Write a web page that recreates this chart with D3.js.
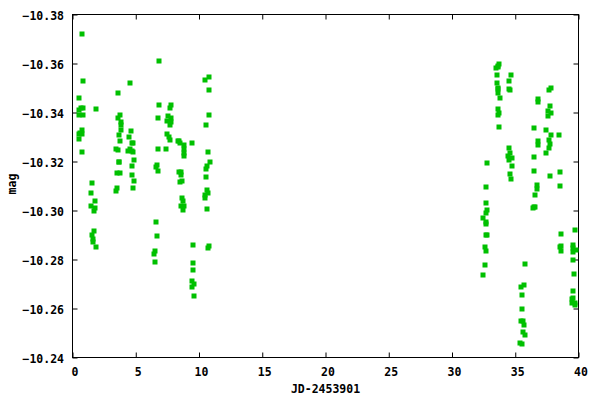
<!DOCTYPE html>
<html><head><meta charset="utf-8">
<script src="https://cdn.jsdelivr.net/npm/d3@7"></script>
<style>body{margin:0;background:#fff}svg{display:block}text{font-family:"DejaVu Sans Mono",monospace;font-weight:bold;font-size:11.5px;fill:#000}</style>
</head><body><svg id="c" width="600" height="400"></svg>
<script>
const jd = [
0.77,0.85,0.54,0.70,0.80,0.54,0.54,0.80,0.77,0.60,0.48,0.73,0.48,0.77,
1.88,1.57,1.49,1.80,1.49,1.80,1.72,1.72,1.57,1.65,1.65,1.88,
3.62,4.57,3.78,3.62,3.86,3.86,3.86,3.70,4.65,4.49,3.78,4.73,4.81,3.46,3.62,4.57,4.41,4.73,4.81,4.89,3.70,3.70,4.73,3.54,3.78,4.73,4.89,3.54,3.46,4.81,
6.87,6.86,7.81,7.73,6.79,7.58,7.81,7.50,7.81,7.73,7.50,7.66,7.73,6.79,7.42,6.71,6.63,6.79,6.63,6.71,6.55,6.47,6.55,
8.37,8.45,8.52,9.47,8.84,8.84,8.84,8.84,8.45,8.60,8.60,8.68,8.52,8.68,8.76,8.60,8.84,8.76,9.55,9.55,9.55,9.47,9.63,9.47,9.63,
10.82,10.50,10.82,10.82,10.58,10.74,10.90,10.66,10.58,10.58,10.66,10.74,10.50,10.50,10.66,10.82,10.74,
32.80,32.72,32.65,32.80,32.65,32.49,32.72,32.65,32.80,32.72,32.57,32.65,32.57,32.49,
33.75,33.60,33.44,33.67,33.52,33.52,33.67,33.60,33.67,33.83,33.60,33.75,33.60,33.75,
34.70,34.47,34.47,34.62,34.54,34.39,34.62,34.78,34.54,34.78,34.62,34.70,
35.81,35.73,35.49,35.57,35.57,35.49,35.65,35.73,35.65,35.81,35.41,35.57,
36.76,36.76,36.52,36.76,36.76,36.52,36.52,36.68,36.68,36.60,36.52,36.60,36.44,
37.79,37.63,37.71,37.55,37.79,37.55,37.47,37.79,38.42,37.63,37.71,37.63,37.47,38.50,37.71,38.50,38.58,38.50,38.58,38.58,
39.76,39.53,39.53,39.84,39.53,39.60,39.68,39.60,39.45,39.60,39.76,39.45,39.76
];
const mag = [
-10.372,-10.353,-10.346,-10.342,-10.342,-10.341,-10.339,-10.339,-10.3327,-10.3318,-10.3311,-10.3311,-10.329,-10.324,
-10.3416,-10.3114,-10.307,-10.3037,-10.302,-10.3012,-10.2996,-10.2917,-10.2898,-10.2882,-10.287,-10.2853,
-10.348,-10.352,-10.339,-10.3376,-10.3363,-10.3347,-10.333,-10.331,-10.3323,-10.3302,-10.3282,-10.3274,-10.3274,-10.3249,-10.3245,-10.3253,-10.3241,-10.3241,-10.3237,-10.3208,-10.32,-10.3196,-10.318,-10.3155,-10.3155,-10.3143,-10.3122,-10.309,-10.3078,-10.309,
-10.361,-10.343,-10.343,-10.3417,-10.3376,-10.3384,-10.3376,-10.3367,-10.3363,-10.3347,-10.3314,-10.3298,-10.3286,-10.3249,-10.3249,-10.3184,-10.3176,-10.3163,-10.2955,-10.2894,-10.2833,-10.2824,-10.2788,
-10.3282,-10.3282,-10.3277,-10.3277,-10.3266,-10.3249,-10.3233,-10.3224,-10.3159,-10.3159,-10.3143,-10.3122,-10.3118,-10.3049,-10.3037,-10.302,-10.302,-10.3004,-10.2861,-10.2784,-10.2759,-10.2714,-10.2698,-10.2689,-10.2649,
-10.3543,-10.3531,-10.349,-10.3388,-10.3351,-10.3237,-10.32,-10.318,-10.3171,-10.3135,-10.3082,-10.307,-10.3065,-10.3049,-10.3008,-10.2857,-10.2845,
-10.3192,-10.3094,-10.3029,-10.3004,-10.2988,-10.2971,-10.2955,-10.2943,-10.2902,-10.2898,-10.2849,-10.2833,-10.2776,-10.2735,
-10.3596,-10.3588,-10.358,-10.3584,-10.3555,-10.3522,-10.3502,-10.3494,-10.3478,-10.3461,-10.3416,-10.34,-10.3388,-10.3339,
-10.3555,-10.3527,-10.3494,-10.349,-10.3257,-10.3224,-10.3233,-10.3216,-10.3208,-10.318,-10.3151,-10.3127,
-10.278,-10.2694,-10.2686,-10.2657,-10.2596,-10.2551,-10.2551,-10.2531,-10.2506,-10.249,-10.2461,-10.2457,
-10.3457,-10.3441,-10.3335,-10.3282,-10.3266,-10.322,-10.3163,-10.3106,-10.3086,-10.3065,-10.3016,-10.3016,-10.3012,
-10.3502,-10.349,-10.3425,-10.3408,-10.3396,-10.3384,-10.3327,-10.331,-10.331,-10.3286,-10.327,-10.3257,-10.3233,-10.3159,-10.3139,-10.3102,-10.2906,-10.2853,-10.2857,-10.2833,
-10.2922,-10.2861,-10.2845,-10.2837,-10.2829,-10.28,-10.2739,-10.2673,-10.2637,-10.2641,-10.2624,-10.2624,-10.2616
];
const xTicks = [0,5,10,15,20,25,30,35,40];
const yTicks = [-10.38,-10.36,-10.34,-10.32,-10.30,-10.28,-10.26,-10.24];
const xTitle = "JD-2453901", yTitle = "mag";

const L=72.5,R=578.5,T=14.5,B=357.5;
const svg=d3.select("#c");
const x=d3.scaleLinear().domain([0,40]).range([L,R]);
const y=d3.scaleLinear().domain([-10.38,-10.24]).range([T,B]);
const fmtY=d3.format(".2f");
const tl=5;
const ax=d3.axisBottom(x).tickValues(xTicks).tickSizeInner(-tl).tickSizeOuter(0).tickPadding(10).tickFormat(d3.format("d"));
const gx=svg.append("g").attr("transform",`translate(0,${B})`).call(ax);
const axT=d3.axisTop(x).tickValues(xTicks).tickSizeInner(-tl).tickSizeOuter(0).tickFormat("");
const gxt=svg.append("g").attr("transform",`translate(0,${T})`).call(axT);
const ay=d3.axisLeft(y).tickValues(yTicks).tickSizeInner(-tl).tickSizeOuter(0).tickPadding(8.5).tickFormat(fmtY);
const gy=svg.append("g").attr("transform",`translate(${L},0)`).call(ay);
const ayR=d3.axisRight(y).tickValues(yTicks).tickSizeInner(-tl).tickSizeOuter(0).tickFormat("");
const gyr=svg.append("g").attr("transform",`translate(${R},0)`).call(ayR);
[gx,gxt,gy,gyr].forEach(a=>{a.select(".domain").remove();a.selectAll("line").attr("stroke","#000");a.selectAll("text").attr("font-family",null).attr("font-size",null).attr("fill","#000");});
gx.selectAll("text").attr("dy","0.71em").attr("dx",2);
gy.selectAll("text").attr("dy","0.4em");
svg.append("rect").attr("x",L).attr("y",T).attr("width",R-L).attr("height",B-T).attr("fill","none").attr("stroke","#000").attr("stroke-width",1);
svg.append("g").selectAll("rect").data(jd.map((d,i)=>[d,mag[i]])).join("rect")
  .attr("x",d=>Math.round(x(d[0]))-2.5).attr("y",d=>Math.round(y(d[1]))-2.5)
  .attr("width",5).attr("height",5).attr("fill","#00c000");
svg.append("text").attr("x",(L+R)/2).attr("y",393).attr("text-anchor","middle").text(xTitle);
svg.append("text").attr("transform",`translate(16,184) rotate(-90)`).attr("text-anchor","middle").text(yTitle);
</script></body></html>
